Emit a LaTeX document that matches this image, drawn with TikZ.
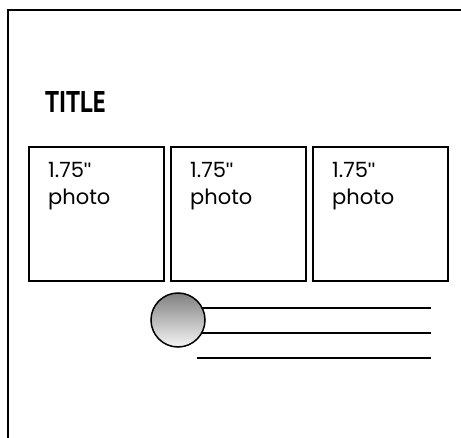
\documentclass[tikz,border=0pt]{standalone}
\usepackage{fontspec}
\setmainfont{Poppins}
\newfontfamily\titlefont{PT Sans}
\newfontfamily\quotefont{Liberation Sans}
\newcommand{\inchmark}{{\quotefont\symbol{34}}}
\begin{document}
\begin{tikzpicture}[x=1pt,y=-1pt,
  photobox/.style={draw=black,line width=1.6pt,minimum width=135pt,minimum height=134pt,inner sep=0pt,anchor=north west},
  phototext/.style={anchor=north west,align=left,inner sep=0pt,font=\fontsize{21}{27}\selectfont},
  rule/.style={line width=1.6pt}]
\useasboundingbox (0,0) rectangle (461,438);
\fill[white] (0,0) rectangle (461,438);
\draw[line width=2pt] (8,460) -- (8,10) -- (480,10);
\node[anchor=base west,inner sep=0pt] (title) at (45,113) {\scalebox{0.82}[1]{\titlefont\bfseries\fontsize{30}{32}\selectfont TITLE}};
\node[photobox] (p1) at (28,146) {};
\node[photobox] (p2) at (170,146) {};
\node[photobox] (p3) at (312,146) {};
\node[phototext] (t1) at (48,162) {1.75\inchmark\\photo};
\node[phototext] (t2) at (190,162) {1.75\inchmark\\photo};
\node[phototext] (t3) at (332,162) {1.75\inchmark\\photo};
\coordinate (a1) at (190,308); \coordinate (b1) at (431,308);
\coordinate (a2) at (190,333); \coordinate (b2) at (431,333);
\coordinate (a3) at (197,358); \coordinate (b3) at (431,358);
\draw[rule] (a1) -- (b1);
\draw[rule] (a2) -- (b2);
\draw[rule] (a3) -- (b3);
\node[circle,draw=black,line width=1.5pt,minimum size=54pt,inner sep=0pt,top color=black!50,bottom color=black!4] (dot) at (178,320) {};
\end{tikzpicture}
\end{document}
